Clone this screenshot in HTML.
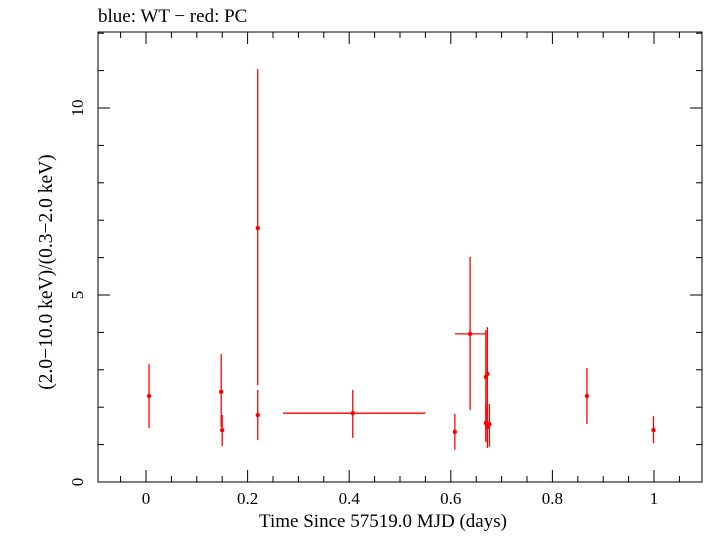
<!DOCTYPE html>
<html><head><meta charset="utf-8"><style>
body{margin:0;background:#fff;}
svg text{font-family:"Liberation Serif",serif;fill:#000;}
</style></head><body>
<svg id="chart" width="705" height="532" xmlns="http://www.w3.org/2000/svg">
<text x="98" y="22" font-size="19">blue: WT − red: PC</text>
<rect x="98" y="32" width="604" height="450" fill="none" stroke="#000" stroke-width="1"/>
<g id="axes"></g>
<g id="marks"></g>
<text x="383" y="527" font-size="19" text-anchor="middle">Time Since 57519.0 MJD (days)</text>
<text transform="translate(52,272) rotate(-90)" font-size="19.5" text-anchor="middle">(2.0−10.0 keV)/(0.3−2.0 keV)</text>
</svg>
<script>
const times=[0.006,0.148,0.150,0.220,0.220,0.407,0.608,0.638,0.669,0.672,0.669,0.672,0.676,0.868,0.999];
const ratios=[2.30,2.41,1.39,6.79,1.79,1.84,1.34,3.96,2.81,2.89,1.58,1.47,1.55,2.30,1.39];
const yHigh=[3.15,3.42,1.79,11.04,2.46,2.46,1.82,6.02,4.06,4.14,2.13,2.05,2.09,3.05,1.76];
const yLow=[1.44,1.47,0.96,2.59,1.12,1.18,0.86,1.93,1.12,1.65,1.07,0.91,0.94,1.55,1.04];
const xLow=[0.006,0.148,0.150,0.220,0.220,0.270,0.608,0.608,0.669,0.672,0.669,0.672,0.676,0.868,0.999];
const xHigh=[0.006,0.148,0.150,0.220,0.220,0.550,0.608,0.669,0.669,0.672,0.669,0.672,0.676,0.868,0.999];
const xTicks=[0,0.2,0.4,0.6,0.8,1];
const xTickLabels=["0","0.2","0.4","0.6","0.8","1"];
const yTicks=[0,5,10];
const yTickLabels=["0","5","10"];
const X=v=>146+v*508, Y=v=>482-v*37.4;
const ns="http://www.w3.org/2000/svg";
function mk(tag,attrs,parent,txt){const e=document.createElementNS(ns,tag);for(const k in attrs)e.setAttribute(k,attrs[k]);if(txt!==undefined)e.textContent=txt;parent.appendChild(e);return e;}
const ax=document.getElementById('axes'), mg=document.getElementById('marks');
for(let v=-0.05;v<=1.09;v+=0.05){const r=Math.round(v*20)%4===0;const x=X(v);const l=r?12:6;
 const t1=mk('line',{x1:x,x2:x,y1:482,y2:482-l,stroke:'#000'},ax);
 const t2=mk('line',{x1:x,x2:x,y1:32,y2:32+l,stroke:'#000'},ax);}
xTicks.forEach((v,i)=>{const t=mk('text',{x:X(v),y:504,'font-size':17,'text-anchor':'middle'},ax,xTickLabels[i]);});
for(let v=0;v<=12;v++){const y=Y(v);const l=v%5===0?12:6;
 const t1=mk('line',{x1:98,x2:98+l,y1:y,y2:y,stroke:'#000'},ax);
 const t2=mk('line',{x1:702,x2:702-l,y1:y,y2:y,stroke:'#000'},ax);}
yTicks.forEach((v,i)=>{const t=mk('text',{transform:`translate(83,${Y(v)}) rotate(-90)`,'font-size':17,'text-anchor':'middle'},ax,yTickLabels[i]);});
times.forEach((t,i)=>{const g=mk('g',{},mg);
 mk('line',{x1:X(t),x2:X(t),y1:Y(yHigh[i]),y2:Y(yLow[i]),stroke:'#f00','stroke-width':1.3},g);
 if(xHigh[i]>xLow[i])mk('line',{x1:X(xLow[i]),x2:X(xHigh[i]),y1:Y(ratios[i]),y2:Y(ratios[i]),stroke:'#f00','stroke-width':1.3},g);
 mk('circle',{cx:X(t),cy:Y(ratios[i]),r:2.2,fill:'#f00'},g);});
</script>
</body></html>
